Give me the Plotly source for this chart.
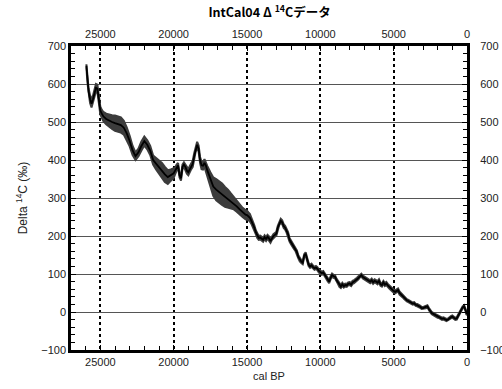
import plotly.graph_objects as go

# ---- data (cal BP, Delta14C permil, 1-sigma) ----
cal_bp = [25950, 25900, 25850, 25800, 25700, 25600, 25500, 25400, 25300, 25200,
          25100, 25000, 24900, 24800, 24600, 24400, 24200, 24000, 23800, 23600,
          23400, 23200, 23000, 22800, 22600, 22400, 22200, 22000, 21800, 21600,
          21400, 21200, 21000, 20800, 20600, 20400, 20200, 20000, 19900, 19800,
          19700, 19600, 19500, 19400, 19300, 19200, 19100, 19000, 18900, 18800,
          18700, 18600, 18500, 18400, 18300, 18200, 18100, 18000, 17900, 17800,
          17700, 17500, 17300, 17100, 16900, 16700, 16500, 16300, 16100, 15900,
          15700, 15500, 15300, 15100, 15000, 14900, 14800, 14700, 14600, 14500,
          14400, 14300, 14200, 14100, 14000, 13900, 13800, 13700, 13600, 13500,
          13400, 13300, 13200, 13100, 13000, 12900, 12800, 12700, 12600, 12500,
          12400, 12300, 12200, 12100, 12000, 11900, 11800, 11700, 11600, 11500,
          11400, 11300, 11200, 11100, 11000, 10900, 10800, 10700, 10600, 10500,
          10400, 10300, 10200, 10100, 10000, 9900, 9800, 9700, 9600, 9500,
          9400, 9300, 9200, 9100, 9000, 8900, 8800, 8700, 8600, 8500,
          8400, 8300, 8200, 8100, 8000, 7900, 7800, 7700, 7600, 7500,
          7400, 7300, 7200, 7100, 7000, 6900, 6800, 6700, 6600, 6500,
          6400, 6300, 6200, 6100, 6000, 5900, 5800, 5700, 5600, 5500,
          5400, 5300, 5200, 5100, 5000, 4900, 4800, 4700, 4600, 4500,
          4400, 4300, 4200, 4100, 4000, 3900, 3800, 3700, 3600, 3500,
          3400, 3300, 3200, 3100, 3000, 2900, 2800, 2700, 2600, 2500,
          2400, 2300, 2200, 2100, 2000, 1900, 1800, 1700, 1600, 1500,
          1400, 1300, 1200, 1100, 1000, 900, 800, 700, 600, 500,
          400, 300, 200, 100, 50, 0]

delta14c = [648, 620, 600, 580, 560, 548, 560, 575, 590, 588,
            560, 530, 522, 515, 508, 503, 500, 497, 494, 492,
            485, 470, 450, 425, 410, 420, 437, 450, 440, 425,
            400, 390, 380, 372, 362, 355, 360, 365, 372, 380,
            386, 360, 352, 382, 388, 382, 372, 368, 376, 384,
            390, 410, 430, 440, 430, 400, 386, 385, 392, 385,
            372, 350, 330, 322, 316, 310, 303, 298, 292, 286,
            278, 270, 262, 256, 255, 252, 248, 240, 233, 222,
            210, 200, 195, 196, 192, 190, 197, 192, 198, 194,
            187, 195, 200, 203, 206, 222, 234, 240, 236, 226,
            222, 214, 205, 190, 183, 178, 170, 165, 158, 145,
            137, 133, 130, 148, 153, 138, 125, 120, 123, 118,
            115, 117, 114, 108, 105, 102, 104, 98, 93, 85,
            80, 90, 97, 94, 93, 84, 78, 70, 67, 73,
            68, 71, 70, 74, 75, 72, 78, 80, 82, 86,
            90, 95, 97, 92, 89, 88, 84, 82, 80, 84,
            78, 82, 80, 77, 82, 73, 71, 78, 72, 75,
            70, 66, 63, 58, 55, 53, 56, 58, 50, 46,
            42, 38, 36, 31, 29, 27, 25, 22, 23, 19,
            18, 17, 14, 11, 10, 12, 13, 15, 8, 2,
            -3, -5, -7, -10, -12, -13, -15, -18, -17, -19,
            -21, -20, -16, -14, -12, -16, -18, -17, -10, 0,
            5, 12, 15, 5, -3, -5]

sigma = [4, 5, 6, 8, 10, 10, 10, 10, 10, 10,
         10, 10, 10, 12, 14, 16, 18, 20, 20, 20,
         18, 16, 14, 12, 10, 10, 12, 12, 12, 12,
         12, 15, 18, 20, 20, 18, 15, 12, 8, 8,
         6, 6, 6, 6, 6, 6, 8, 8, 8, 8,
         8, 8, 8, 8, 8, 8, 10, 10, 10, 10,
         12, 18, 24, 28, 28, 28, 26, 24, 20, 16,
         14, 12, 12, 12, 12, 10, 10, 8, 7, 6,
         5, 5, 5, 5, 5, 5, 5, 5, 5, 5,
         5, 5, 5, 5, 5, 5, 5, 5, 5, 5,
         5, 5, 5, 5, 5, 4, 4, 4, 4, 4,
         4, 4, 4, 4, 4, 4, 4, 4, 4, 4,
         4, 4, 4, 4, 4, 4, 4, 4, 4, 4,
         4, 4, 4, 4, 4, 4, 4, 4, 4, 4,
         4, 4, 4, 4, 4, 4, 4, 4, 4, 4,
         4, 4, 4, 4, 4, 4, 4, 4, 4, 4,
         4, 4, 4, 4, 4, 4, 4, 4, 4, 4,
         4, 4, 4, 4, 4, 4, 4, 4, 4, 4,
         3, 3, 3, 3, 3, 3, 3, 3, 3, 3,
         3, 3, 3, 3, 3, 3, 3, 3, 3, 3,
         3, 3, 3, 3, 3, 3, 3, 3, 3, 3,
         3, 3, 3, 3, 3, 3, 3, 3, 3, 3,
         3, 3, 3, 3, 3, 3]

x_ticks = [25000, 20000, 15000, 10000, 5000, 0]
y_ticks = [700, 600, 500, 400, 300, 200, 100, 0, -100]

upper = [v + s for v, s in zip(delta14c, sigma)]
lower = [v - s for v, s in zip(delta14c, sigma)]

fig = go.Figure()
fig.add_trace(go.Scatter(
    x=cal_bp + cal_bp[::-1], y=upper + lower[::-1],
    fill="toself", fillcolor="#3c3c3c", line=dict(width=2, color="#3c3c3c"),
    hoverinfo="skip", showlegend=False))
fig.add_trace(go.Scatter(
    x=cal_bp, y=delta14c, mode="lines",
    line=dict(color="black", width=1.8), showlegend=False))
# invisible trace to carry the top / right axes
fig.add_trace(go.Scatter(
    x=cal_bp, y=delta14c, xaxis="x2", yaxis="y2", mode="lines",
    line=dict(width=0), opacity=0, hoverinfo="skip", showlegend=False))

tick_font = dict(family="Liberation Sans, Arial, sans-serif", size=11, color="#222")

fig.update_layout(
    width=502, height=389,
    margin=dict(l=71, r=35, t=46, b=39, autoexpand=False),
    paper_bgcolor="white", plot_bgcolor="white",
    showlegend=False,
    title=dict(text="IntCal04 Δ <sup>14</sup>Cデータ",
               font=dict(family="Noto Sans CJK JP", size=12.5, color="black", weight="bold"),
               x=0.537, xanchor="center", xref="container",
               y=1 - 13 / 389, yanchor="middle", yref="container"),
    xaxis=dict(range=[27000, 0], tickvals=x_ticks, ticktext=[str(v) for v in x_ticks],
               ticks="inside", ticklen=5, tickwidth=1, tickcolor="black", automargin=False,
               minor=dict(dtick=1000, ticks="inside", ticklen=4, tickcolor="black", showgrid=False),
               showline=True, linecolor="black", linewidth=2.5, mirror="ticks",
               showgrid=True, gridcolor="black", gridwidth=1.5, griddash="dot",
               zeroline=False, tickfont=tick_font,
               title=dict(text="cal BP", font=dict(family="Liberation Sans, Arial, sans-serif", size=11, color="#222"), standoff=6)),
    yaxis=dict(range=[-100, 700], tickvals=y_ticks, automargin=False,
               ticks="inside", ticklen=5, tickwidth=1, tickcolor="black",
               minor=dict(dtick=20, ticks="inside", ticklen=4, tickcolor="black", showgrid=False),
               showline=True, linecolor="black", linewidth=2.5, mirror="ticks",
               showgrid=True, gridcolor="#555", gridwidth=1,
               zeroline=False, tickfont=tick_font,
               title=dict(text="Delta <sup>14</sup>C (‰)", font=dict(family="Liberation Sans, Arial, sans-serif", size=12, color="#222"), standoff=12)),
    xaxis2=dict(range=[27000, 0], overlaying="x", side="top", tickvals=x_ticks,
                ticktext=[str(v) for v in x_ticks], ticks="outside", ticklen=3,
                tickcolor="rgba(0,0,0,0)", showgrid=False, automargin=False,
                showline=False, zeroline=False, tickfont=tick_font),
    yaxis2=dict(range=[-100, 700], overlaying="y", side="right", tickvals=y_ticks,
                ticks="outside", ticklen=10, tickcolor="rgba(0,0,0,0)", automargin=False,
                showgrid=False, showline=False, zeroline=False,
                tickfont=tick_font),
)

fig.write_html(
    "out.html",
    config={"displayModeBar": False},
    post_script="document.body.style.margin='0';document.body.style.overflow='hidden';",
)
